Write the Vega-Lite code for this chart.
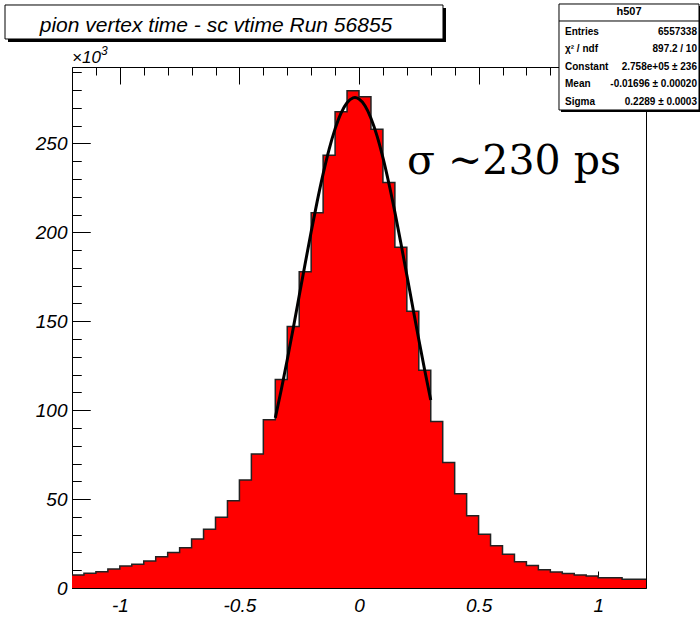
{
  "$schema": "https://vega.github.io/schema/vega-lite/v6.json",
  "autosize": {"type": "none"},
  "width": 574,
  "height": 521,
  "padding": {"left": 72, "top": 67, "right": 54, "bottom": 30},
  "background": "white",
  "config": {
    "view": {"stroke": "black", "strokeWidth": 1},
    "axis": {
      "labelFont": "Liberation Sans",
      "labelFontStyle": "italic",
      "labelFontSize": 19,
      "labelColor": "black",
      "domainColor": "black",
      "tickColor": "black",
      "tickWidth": 1,
      "gridColor": "black",
      "gridWidth": 1,
      "gridOpacity": 1,
      "zindex": 1,
      "title": null,
      "labelFlush": false,
      "labelOverlap": false
    }
  },
  "resolve": {"axis": {"x": "independent", "y": "independent"}},
  "datasets": {
    "hist": [
      {"t": -1.2, "count": 7.3}, {"t": -1.15, "count": 8.3}, {"t": -1.1, "count": 9.2}, {"t": -1.05, "count": 10.7},
      {"t": -1.0, "count": 12.4}, {"t": -0.95, "count": 13.3}, {"t": -0.9, "count": 15.2}, {"t": -0.85, "count": 17.6},
      {"t": -0.8, "count": 19.9}, {"t": -0.75, "count": 22.7}, {"t": -0.7, "count": 27.6}, {"t": -0.65, "count": 33.0},
      {"t": -0.6, "count": 39.8}, {"t": -0.55, "count": 49.0}, {"t": -0.5, "count": 60.7}, {"t": -0.45, "count": 75.3},
      {"t": -0.4, "count": 94.6}, {"t": -0.35, "count": 117.2}, {"t": -0.3, "count": 147.0}, {"t": -0.25, "count": 177.9},
      {"t": -0.2, "count": 211.0}, {"t": -0.15, "count": 243.4}, {"t": -0.1, "count": 267.8}, {"t": -0.05, "count": 279.6},
      {"t": 0.0, "count": 276.2}, {"t": 0.05, "count": 258.0}, {"t": 0.1, "count": 228.0}, {"t": 0.15, "count": 191.7},
      {"t": 0.2, "count": 155.7}, {"t": 0.25, "count": 122.4}, {"t": 0.3, "count": 93.7}, {"t": 0.35, "count": 70.6},
      {"t": 0.4, "count": 53.0}, {"t": 0.45, "count": 40.6}, {"t": 0.5, "count": 30.2}, {"t": 0.55, "count": 23.7},
      {"t": 0.6, "count": 19.0}, {"t": 0.65, "count": 14.8}, {"t": 0.7, "count": 12.6}, {"t": 0.75, "count": 10.3},
      {"t": 0.8, "count": 9.0}, {"t": 0.85, "count": 8.1}, {"t": 0.9, "count": 7.3}, {"t": 0.95, "count": 6.8},
      {"t": 1.0, "count": 5.8}, {"t": 1.05, "count": 5.8}, {"t": 1.1, "count": 4.9}, {"t": 1.15, "count": 4.9},
      {"t": 1.2, "count": 4.9}
    ],
    "fit": [
      {"t": -0.35, "count": 95.7}, {"t": -0.325, "count": 111.5}, {"t": -0.3, "count": 128.4}, {"t": -0.275, "count": 146.1},
      {"t": -0.25, "count": 164.3}, {"t": -0.225, "count": 182.5}, {"t": -0.2, "count": 200.3}, {"t": -0.175, "count": 217.3},
      {"t": -0.15, "count": 232.9}, {"t": -0.125, "count": 246.7}, {"t": -0.1, "count": 258.2}, {"t": -0.075, "count": 267.1},
      {"t": -0.05, "count": 272.9}, {"t": -0.025, "count": 275.6}, {"t": -0.017, "count": 275.8}, {"t": 0.0, "count": 275.0},
      {"t": 0.025, "count": 271.2}, {"t": 0.05, "count": 264.2}, {"t": 0.075, "count": 254.4}, {"t": 0.1, "count": 242.0},
      {"t": 0.125, "count": 227.5}, {"t": 0.15, "count": 211.4}, {"t": 0.175, "count": 194.0}, {"t": 0.2, "count": 176.0},
      {"t": 0.225, "count": 157.7}, {"t": 0.25, "count": 139.7}, {"t": 0.275, "count": 122.3}, {"t": 0.3, "count": 105.7}
    ]
  },
  "layer": [
    {
      "data": {"name": "hist"},
      "mark": {"type": "area", "interpolate": "step-after", "color": "#ff0000"},
      "encoding": {
        "x": {
          "field": "t", "type": "quantitative",
          "scale": {"domain": [-1.2, 1.2], "nice": false, "zero": false},
          "axis": {
            "orient": "bottom",
            "values": [-1, -0.5, 0, 0.5, 1],
            "labelExpr": "'' + datum.value",
            "tickSize": -17,
            "labelPadding": 25,
            "grid": true,
            "gridDash": [17, 2000]
          }
        },
        "y": {
          "field": "count", "type": "quantitative",
          "scale": {"domain": [0, 293], "nice": false},
          "axis": {
            "orient": "left",
            "values": [0, 50, 100, 150, 200, 250],
            "tickSize": -18,
            "labelPadding": 23,
            "grid": true,
            "gridDash": [18, 2000]
          }
        }
      }
    },
    {
      "data": {"name": "hist"},
      "mark": {"type": "line", "interpolate": "step-after", "color": "#222222", "strokeWidth": 1.5},
      "encoding": {
        "x": {
          "field": "t", "type": "quantitative",
          "axis": {
            "orient": "bottom",
            "values": [-1.1, -0.9, -0.8, -0.7, -0.6, -0.4, -0.3, -0.2, -0.1, 0.1, 0.2, 0.3, 0.4, 0.6, 0.7, 0.8, 0.9, 1.1],
            "tickSize": -8,
            "labels": false,
            "domain": false,
            "grid": true,
            "gridDash": [8, 2000]
          }
        },
        "y": {
          "field": "count", "type": "quantitative",
          "axis": {
            "orient": "left",
            "values": [10, 20, 30, 40, 60, 70, 80, 90, 110, 120, 130, 140, 160, 170, 180, 190, 210, 220, 230, 240, 260, 270, 280, 290],
            "tickSize": -9,
            "labels": false,
            "domain": false,
            "grid": true,
            "gridDash": [9, 2000]
          }
        }
      }
    },
    {
      "data": {"name": "fit"},
      "mark": {"type": "line", "interpolate": "monotone", "color": "black", "strokeWidth": 3},
      "encoding": {
        "x": {"field": "t", "type": "quantitative", "axis": null},
        "y": {"field": "count", "type": "quantitative", "axis": null}
      }
    },
    {
      "data": {"values": [{}]},
      "mark": {"type": "text", "text": "σ ~230 ps", "font": "DejaVu Serif", "fontSize": 41, "align": "left", "baseline": "alphabetic", "color": "black"},
      "encoding": {"x": {"datum": 0.2007, "axis": null}, "y": {"datum": 232.83, "axis": null}}
    },
    {
      "data": {"values": [{}]},
      "mark": {"type": "text", "text": "×10", "font": "Liberation Sans", "fontStyle": "italic", "fontSize": 17, "align": "left", "baseline": "alphabetic", "color": "black"},
      "encoding": {"x": {"datum": -1.2, "axis": null}, "y": {"datum": 295.08, "axis": null}}
    },
    {
      "data": {"values": [{}]},
      "mark": {"type": "text", "text": "3", "font": "Liberation Sans", "fontStyle": "italic", "fontSize": 12, "align": "left", "baseline": "alphabetic", "color": "black"},
      "encoding": {"x": {"datum": -1.0787, "axis": null}, "y": {"datum": 299.75, "axis": null}}
    },
    {
      "data": {"values": [{}]},
      "mark": {"type": "rect", "color": "black"},
      "encoding": {"x": {"datum": -1.4676, "axis": null}, "x2": {"datum": 0.3637}, "y": {"datum": 326.18, "axis": null}, "y2": {"datum": 307.06}}
    },
    {
      "data": {"values": [{}]},
      "mark": {"type": "rect", "fill": "white", "stroke": "black", "strokeWidth": 1},
      "encoding": {"x": {"datum": -1.4801, "axis": null}, "x2": {"datum": 0.3512}, "y": {"datum": 327.87, "axis": null}, "y2": {"datum": 308.75}}
    },
    {
      "data": {"values": [{}]},
      "mark": {"type": "text", "text": "pion vertex time - sc vtime Run 56855", "font": "Liberation Sans", "fontStyle": "italic", "fontSize": 21, "align": "center", "baseline": "alphabetic", "color": "black"},
      "encoding": {"x": {"datum": -0.5979, "axis": null}, "y": {"datum": 312.68, "axis": null}}
    },
    {
      "data": {"values": [{}]},
      "mark": {"type": "rect", "color": "black"},
      "encoding": {"x": {"datum": 0.8446, "axis": null}, "x2": {"datum": 1.43}, "y": {"datum": 327.3, "axis": null}, "y2": {"datum": 267.7}}
    },
    {
      "data": {"values": [{}]},
      "mark": {"type": "rect", "fill": "white", "stroke": "black", "strokeWidth": 1},
      "encoding": {"x": {"datum": 0.8362, "axis": null}, "x2": {"datum": 1.4216}, "y": {"datum": 328.43, "axis": null}, "y2": {"datum": 268.82}}
    },
    {
      "data": {"values": [{}]},
      "mark": {"type": "rule", "color": "black", "strokeWidth": 1},
      "encoding": {"x": {"datum": 0.8362, "axis": null}, "x2": {"datum": 1.4216}, "y": {"datum": 318.87, "axis": null}}
    },
    {
      "data": {"values": [{}]},
      "mark": {"type": "text", "text": "h507", "font": "Liberation Sans", "fontWeight": "bold", "fontSize": 11, "align": "center", "baseline": "middle", "color": "black"},
      "encoding": {"x": {"datum": 1.1289, "axis": null}, "y": {"datum": 323.65, "axis": null}}
    },
    {
      "data": {"values": [{}]},
      "mark": {"type": "text", "text": ["Entries", "χ² / ndf", "Constant", "Mean", "Sigma"], "lineHeight": 17.4, "font": "Liberation Sans", "fontWeight": "bold", "fontSize": 10, "align": "left", "baseline": "alphabetic", "color": "black"},
      "encoding": {"x": {"datum": 0.8613, "axis": null}, "y": {"datum": 311.0, "axis": null}}
    },
    {
      "data": {"values": [{}]},
      "mark": {"type": "text", "text": ["6557338", "897.2 / 10", "2.758e+05 ± 236", "-0.01696 ± 0.00020", "0.2289 ± 0.0003"], "lineHeight": 17.4, "font": "Liberation Sans", "fontWeight": "bold", "fontSize": 10, "align": "right", "baseline": "alphabetic", "color": "black"},
      "encoding": {"x": {"datum": 1.4132, "axis": null}, "y": {"datum": 311.0, "axis": null}}
    }
  ]
}
